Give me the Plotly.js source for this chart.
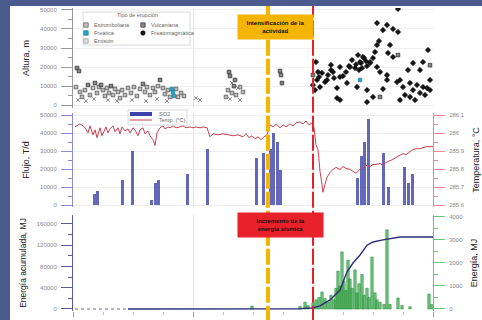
<!DOCTYPE html>
<html><head><meta charset="utf-8">
<script src="https://cdn.plot.ly/plotly-3.0.1.min.js"></script>
<style>
html,body{margin:0;padding:0;background:#4b5b8d;width:482px;height:320px;overflow:hidden}
#chart{position:absolute;left:10px;top:6px;width:472px;height:314px;background:#fff}
</style>
</head><body><div id="chart"></div>
<script>
// x values are months since the start of the record (0..36, three years)
const estromboliana = [[0.3,9500],[0.7,6900],[0.9,4300],[1.2,7900],[1.7,5300],[2.0,9000],[2.4,6400],[2.6,9500],[3.0,7900],[3.2,4800],[3.4,9000],[3.6,6400],[4.0,5300],[4.2,8500],[4.5,6900],[4.7,3700],[4.9,7900],[5.2,5300],[5.5,9000],[5.8,6400],[6.1,9500],[6.4,4800],[6.7,8500],[7.2,6900],[7.4,9500],[7.7,5300],[8.0,9000],[8.2,6900],[8.5,10000],[9.0,9000],[9.2,5800],[9.5,7900],[9.7,4300],[10.3,8500],[10.5,4300],[10.8,6400],[11.1,4800],[15.5,7900],[15.9,6400],[16.3,5300],[16.7,9500],[17.0,6900],[15.3,4300]];
const vulcaniana = [[0.4,19500],[0.6,17900],[1.5,10600],[2.2,11600],[2.8,10600],[3.8,10000],[7.0,11100],[8.7,13200],[15.6,17400],[15.7,15300],[16.2,13200],[16.1,10000],[20.7,17900],[20.8,15800],[20.9,11600],[24.0,15800],[30.7,4300],[35.7,21000],[32.5,26300]];
const emision = [[0.5,2700],[1.3,2200],[2.1,3200],[3.5,2700],[4.4,2200],[5.9,2700],[7.3,2200],[8.4,3200],[9.4,2200],[12.3,3700],[12.7,2700],[15.7,3200],[16.7,2700],[15.9,11600],[16.5,9000]];
const freatica = [[9.9,8500],[10.0,6900],[10.1,4800],[28.7,13200]];
const freatomagmatica = [[24.3,22600],[24.0,10600],[24.2,7900],[24.4,13200],[24.6,14800],[24.9,16900],[25.2,12100],[25.5,15800],[25.8,18400],[26.1,14200],[26.4,9000],[25.8,21100],[26.7,20000],[27.0,15300],[27.3,17400],[27.6,20500],[27.9,23700],[28.2,19500],[28.5,26300],[28.8,22100],[29.1,24700],[29.4,20500],[29.7,22600],[30.0,24700],[30.2,27900],[30.4,31600],[30.6,33700],[30.4,43100],[31.4,42100],[31.0,39400],[32.0,40000],[32.5,38400],[32.5,50500],[31.7,31600],[31.5,27400],[32.0,25300],[34.0,22100],[35.0,22600],[35.5,28900],[33.5,18400],[34.7,18400],[32.7,13200],[33.7,11600],[34.4,10600],[35.0,9500],[35.4,9000],[34.0,7900],[33.0,9500],[32.4,12100],[31.4,13200],[29.4,7900],[28.4,9500],[27.4,11600],[26.7,14800],[26.4,3700],[29.4,1600],[30.0,4300],[31.0,8500],[24.7,9500],[25.4,13200],[26.0,17400],[27.7,20000],[28.7,22600],[29.0,25300],[29.7,22100],[30.4,20000],[30.7,17400],[31.4,15800],[35.7,13200],[35.7,7900],[34.2,2700],[32.7,2700],[24.5,17400],[26.7,2700],[28.3,21400],[28.9,19500],[29.3,23100],[28.6,18400],[33.2,5300],[34.7,6400],[35.2,5300],[33.7,4300]];

const so2Months = [2.1,2.4,4.9,5.9,7.8,8.2,8.5,11.4,13.4,18.3,19.0,19.7,20.0,20.4,20.7,28.4,28.8,29.1,29.5,31.0,31.5,33.1,33.5,33.9];
const so2Flux   = [6000,8000,14000,30000,3000,12000,14000,17000,31000,26000,29000,31000,40000,35000,19500,15000,27000,35000,48000,29000,10000,21000,12500,17500];

const tempMonths = [0.2,0.5,0.7,1.0,1.2,1.5,1.7,2.0,2.2,2.4,2.7,2.9,3.1,3.3,3.5,3.7,4.0,4.2,4.5,4.7,4.9,5.2,5.5,5.7,6.0,6.2,6.5,6.7,7.0,7.2,7.5,7.7,8.0,8.2,8.4,8.7,9.0,9.2,9.5,9.7,10.0,10.3,10.7,11.0,11.3,11.7,12.0,12.3,12.7,13.0,13.4,13.7,14.0,14.5,15.0,15.5,16.0,16.5,17.0,17.3,17.6,17.9,18.2,18.5,18.8,19.1,19.4,19.7,20.0,20.3,20.7,21.0,21.3,21.7,22.0,22.3,22.7,23.0,23.3,23.6,23.9,24.1,24.3,24.5,24.7,24.9,25.0,25.2,25.4,25.7,26.0,26.3,26.7,27.0,27.3,27.7,28.0,28.3,28.7,29.0,29.3,29.7,30.0,30.3,30.7,31.0,31.3,31.7,32.0,32.3,32.7,33.0,33.3,33.7,34.0,34.3,34.7,35.0,35.3,35.7,36.0];
const tempC = [286.034,286.045,286.051,286.040,286.029,286.001,286.040,285.990,286.018,285.974,286.029,285.985,286.012,286.034,286.001,286.023,286.040,286.007,286.029,285.996,286.034,286.012,286.023,286.001,286.029,286.018,285.985,286.018,286.029,285.996,286.012,285.985,285.963,285.930,286.001,286.029,286.040,286.023,286.034,286.029,286.040,286.029,286.034,286.040,286.029,286.034,286.029,286.034,286.029,286.034,286.029,285.979,285.996,285.990,285.996,285.990,285.985,285.990,285.979,285.996,285.974,285.985,285.968,285.979,285.963,285.979,285.990,286.045,286.034,286.051,286.029,286.045,286.034,286.051,286.040,286.056,286.062,286.051,286.067,286.045,286.056,286.029,285.935,285.908,285.787,285.715,285.671,285.715,285.754,285.781,285.798,285.809,285.798,285.814,285.803,285.798,285.787,285.776,285.798,285.809,285.820,285.814,285.825,285.825,285.831,285.820,285.836,285.847,285.853,285.864,285.875,285.886,285.880,285.897,285.908,285.913,285.913,285.919,285.924,285.924,285.924];

const energyMonths = [17.9,22.7,23.2,23.5,24.0,24.3,24.6,24.9,25.2,25.5,25.8,26.1,26.3,26.5,26.7,26.9,27.1,27.3,27.5,27.7,27.9,28.2,28.4,28.6,28.9,29.1,29.4,29.6,29.9,30.2,30.4,30.7,31.1,31.4,31.7,32.5,32.9,33.7,35.6,35.9];
const energyMJ = [130,120,300,150,250,400,500,740,450,300,600,400,900,1650,1000,2480,1200,800,2130,1300,900,1700,700,1100,1500,600,900,500,2260,700,400,300,200,3440,200,480,150,100,650,200];

const cumMonths = [5.5,10,15,20,22.7,23.2,24.0,24.7,25.7,26.7,27.4,28.0,28.7,29.4,30.0,31.0,32.0,32.7,34.0,36.0];
const cumEnergy = [0,0,0,200,300,1500,1900,6000,17000,35700,70000,86500,101600,120000,126000,130000,133500,135500,135500,135500];
const cumEarlyMonths = [0.2,5.5];
const cumEarly = [0,0];

const eventMonths = {orange: 19.5, red: 24.0};
const legendNames = ['Estromboliana','Freática','Emisión','Vulcaniana','Freatomagmática'];

const px = a => a.map(p=>p[0]), py = a => a.map(p=>p[1]);

const traces = [
  {type:'scatter',mode:'markers',name:legendNames[0],x:px(estromboliana),y:py(estromboliana),xaxis:'x',yaxis:'y',
   marker:{symbol:'square',size:3.6,color:'#bdbdbd',line:{color:'#555',width:0.8}}},
  {type:'scatter',mode:'markers',name:legendNames[2],x:px(emision),y:py(emision),xaxis:'x',yaxis:'y',
   marker:{symbol:'x-thin',size:3.6,color:'#999',line:{color:'#888',width:1}}},
  {type:'scatter',mode:'markers',name:legendNames[3],x:px(vulcaniana),y:py(vulcaniana),xaxis:'x',yaxis:'y',
   marker:{symbol:'square',size:3.6,color:'#888',line:{color:'#333',width:0.8}}},
  {type:'scatter',mode:'markers',name:legendNames[4],x:px(freatomagmatica),y:py(freatomagmatica),xaxis:'x',yaxis:'y',
   marker:{symbol:'diamond',size:4.2,color:'#151515',line:{color:'#000',width:0.5}}},
  {type:'scatter',mode:'markers',name:legendNames[1],x:px(freatica),y:py(freatica),xaxis:'x',yaxis:'y',
   marker:{symbol:'square',size:3.6,color:'#2aa5c8',line:{color:'#1a7090',width:0.6}}},
  {type:'bar',name:'SO2',x:so2Months,y:so2Flux,xaxis:'x2',yaxis:'y2',width:0.3,
   marker:{color:'rgba(60,66,170,0.8)',line:{width:0}}},
  {type:'scatter',mode:'lines',name:'Temp. (°C)',x:tempMonths,y:tempC,xaxis:'x2',yaxis:'y3',
   line:{color:'#cc4050',width:1}},
  {type:'bar',name:'Energía',x:energyMonths,y:energyMJ,xaxis:'x3',yaxis:'y4',width:0.25,
   marker:{color:'rgba(40,160,60,0.65)',line:{color:'#1f8a32',width:0.5}}},
  {type:'scatter',mode:'lines',name:'Energía acumulada',x:cumEarlyMonths,y:cumEarly,xaxis:'x3',yaxis:'y5',
   line:{color:'#6a6aa8',width:1,dash:'3px,3px'}},
  {type:'scatter',mode:'lines',name:'Energía acumulada',x:cumMonths,y:cumEnergy,xaxis:'x3',yaxis:'y5',
   line:{color:'#2d2d78',width:1.4}}
];

const gridX = {range:[0,36],dtick:12,tick0:0,showticklabels:false,ticks:'',showgrid:true,gridcolor:'#e2e2e2',zeroline:false,showline:false,fixedrange:true};
const yBase = (lc) => ({ticks:'outside',ticklen:11,tickcolor:lc,showline:true,linecolor:lc,linewidth:1,zeroline:false,
  ticklabelstandoff:3,tickfont:{size:6,color:'#888'},tickformat:'d'});
const tfont = {size:9,color:'#222'};

const layout = {
  width:472,height:314,margin:{l:63,r:49,t:0,b:9},
  paper_bgcolor:'#fff',plot_bgcolor:'#fff',showlegend:false,
  font:{family:'Liberation Sans, Arial, sans-serif',size:6,color:'#777'},
  bargap:0,
  xaxis:Object.assign({},gridX,{domain:[0,1],anchor:'y'}),
  xaxis2:Object.assign({},gridX,{domain:[0,1],anchor:'y2'}),
  xaxis3:Object.assign({},gridX,{domain:[0,1],anchor:'y4',ticks:'outside',ticklen:5,tickcolor:'#999',
     minor:{dtick:3,ticks:'outside',ticklen:3,tickcolor:'#bbb',showgrid:false}}),
  yaxis:Object.assign(yBase('#999'),{domain:[0.6656,0.9934],anchor:'x',range:[-1500,51000],dtick:10000,tick0:0,
     showgrid:true,gridcolor:'#eeeeee',minor:{dtick:5000,ticks:'outside',ticklen:4,tickcolor:'#999'},
     title:{text:'Altura, m',font:tfont,standoff:8}}),
  yaxis2:Object.assign(yBase('#8a8ad8'),{domain:[0.341,0.649],anchor:'x2',range:[-1100,51100],dtick:10000,tick0:0,
     showgrid:true,gridcolor:'#eeeeee',minor:{dtick:5000,ticks:'outside',ticklen:4,tickcolor:'#8a8ad8'},
     title:{text:'Flujo, T/d',font:tfont,standoff:8}}),
  yaxis3:Object.assign(yBase('#e88a96'),{overlaying:'y2',side:'right',anchor:'x2',range:[285.589,286.111],dtick:0.1,tick0:285.6,
     tickformat:'',showgrid:false,minor:{dtick:0.05,ticks:'outside',ticklen:4,tickcolor:'#e88a96'},
     title:{text:'Temperatura, °C',font:tfont,standoff:8}}),
  yaxis4:Object.assign(yBase('#6cc47a'),{domain:[0,0.315],anchor:'x3',side:'right',range:[-87,4087],dtick:1000,tick0:0,
     showgrid:false,minor:{dtick:500,ticks:'outside',ticklen:4,tickcolor:'#6cc47a'},
     title:{text:'Energía, MJ',font:tfont,standoff:8}}),
  yaxis5:Object.assign(yBase('#5a5aa8'),{overlaying:'y4',side:'left',anchor:'x3',range:[-3765,176940],dtick:40000,tick0:0,
     showgrid:false,minor:{dtick:20000,ticks:'outside',ticklen:4,tickcolor:'#5a5aa8'},
     title:{text:'Energía acumulada, MJ',font:{size:8.5,color:'#222'},standoff:8}}),
  shapes:[
    {type:'line',xref:'x',yref:'paper',x0:eventMonths.orange,x1:eventMonths.orange,y0:-0.035,y1:1,
     line:{color:'#f5b400',width:4,dash:'16px,3px'},layer:'above'},
    {type:'line',xref:'x',yref:'paper',x0:eventMonths.red,x1:eventMonths.red,y0:-0.035,y1:1,
     line:{color:'#e8202a',width:2,dash:'16px,3px'},layer:'above'},
    {type:'rect',xref:'paper',yref:'paper',x0:0.028,x1:0.325,y0:0.872,y1:0.980,line:{color:'#cfcfcf',width:0.8},fillcolor:'rgba(255,255,255,0.92)',layer:'above'},
    {type:'rect',xref:'paper',yref:'paper',x0:0.1528,x1:0.3167,y0:0.6098,y1:0.659,line:{color:'#cfcfcf',width:0.8},fillcolor:'rgba(255,255,255,0.92)',layer:'above'}
  ],
  annotations:[
    {xref:'paper',yref:'paper',x:0.5625,y:0.931,xanchor:'center',yanchor:'middle',text:'<b>Intensificación de la<br>actividad</b>',showarrow:false,
     bgcolor:'#f5b400',width:73,height:22,borderpad:1,font:{size:6,color:'#111'},align:'center'},
    {xref:'paper',yref:'paper',x:0.5764,y:0.282,xanchor:'center',yanchor:'middle',text:'<b>Incremento de la<br>energía sísmica</b>',showarrow:false,
     bgcolor:'#e8202a',width:83,height:22,borderpad:1,font:{size:6,color:'#111'},align:'center'},
    {xref:'paper',yref:'paper',x:0.178,y:0.9705,xanchor:'center',yanchor:'middle',text:'Tipo de erupción',showarrow:false,font:{size:5.5,color:'#666'}}
  ]
};

const legRows = [0.9377,0.9115,0.8852];
const legEntries = [
  {col:0,row:0,name:legendNames[0],sym:'rect',fill:'#c4c4c4',edge:'#555'},
  {col:0,row:1,name:legendNames[1],sym:'rect',fill:'#2aa5c8',edge:'#1a7090'},
  {col:0,row:2,name:legendNames[2],sym:'rect',fill:'#dddddd',edge:'#999'},
  {col:1,row:0,name:legendNames[3],sym:'rect',fill:'#888',edge:'#333'},
  {col:1,row:1,name:legendNames[4],sym:'circle',fill:'#151515',edge:'#000'}
];
const colIcon = [0.0361,0.1944], colText = [0.0528,0.2111];
legEntries.forEach(e=>{
  layout.shapes.push({type:e.sym,xref:'paper',yref:'paper',xsizemode:'pixel',ysizemode:'pixel',
    xanchor:colIcon[e.col],yanchor:legRows[e.row],x0:-2.2,x1:2.2,y0:-2.2,y1:2.2,
    fillcolor:e.fill,line:{color:e.edge,width:0.7},layer:'above'});
  layout.annotations.push({xref:'paper',yref:'paper',x:colText[e.col],y:legRows[e.row],xanchor:'left',yanchor:'middle',
    text:e.name,showarrow:false,font:{size:5.5,color:'#666'}});
});
layout.shapes.push({type:'rect',xref:'paper',yref:'paper',x0:0.1583,x1:0.2194,y0:0.6393,y1:0.6525,fillcolor:'#3c42aa',line:{width:0},layer:'above'});
layout.shapes.push({type:'line',xref:'paper',yref:'paper',x0:0.1583,x1:0.2194,y0:0.6262,y1:0.6262,line:{color:'#cc4050',width:1},layer:'above'});
layout.annotations.push({xref:'paper',yref:'paper',x:0.2333,y:0.6459,xanchor:'left',yanchor:'middle',text:'SO2',showarrow:false,font:{size:5.5,color:'#666'}});
layout.annotations.push({xref:'paper',yref:'paper',x:0.2333,y:0.6262,xanchor:'left',yanchor:'middle',text:'Temp. (°C)',showarrow:false,font:{size:5.5,color:'#666'}});

Plotly.newPlot('chart',traces,layout,{staticPlot:true,displayModeBar:false});
</script></body></html>
